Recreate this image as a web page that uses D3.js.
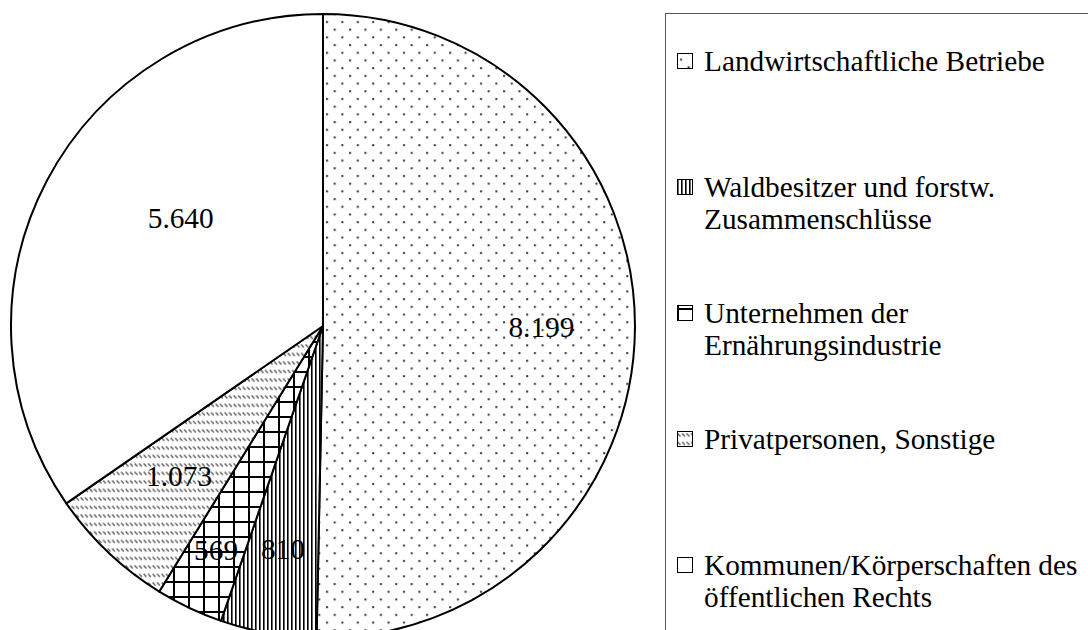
<!DOCTYPE html>
<html>
  <head>
    <meta charset="utf-8">
    <title>Pie chart</title>
    <script src="https://cdnjs.cloudflare.com/ajax/libs/d3/7.8.5/d3.min.js" charset="utf-8"></script>
    <style>
      body { margin: 0; background: #fff; }
      text { font-family: "Liberation Serif", "Times New Roman", serif; }
    </style>
  </head>
  <body>
    <div id="chart"></div>
    <script>

// data
var categories = ["Landwirtschaftliche Betriebe",
                  "Waldbesitzer und forstw. Zusammenschlüsse",
                  "Unternehmen der Ernährungsindustrie",
                  "Privatpersonen, Sonstige",
                  "Kommunen/Körperschaften des öffentlichen Rechts"];
var values = [8199, 810, 569, 1073, 5640];
var valueLabels = ["8.199", "810", "569", "1.073", "5.640"];
var legendLines = [["Landwirtschaftliche Betriebe"],
                   ["Waldbesitzer und forstw.", "Zusammenschlüsse"],
                   ["Unternehmen der", "Ernährungsindustrie"],
                   ["Privatpersonen, Sonstige"],
                   ["Kommunen/Körperschaften des", "öffentlichen Rechts"]];

var W = 1088, H = 630;
var cx = 323, cy = 326, R = 312;
var fontSize = 29.3;
// label placement: fraction of radius, and small angle nudge (radians)
var labelFrac = [0.70, 0.73, 0.80, 0.67, 0.57];
var labelNudge = [0, 0, 0, 0, 0.16];

var svg = d3.select("#chart").append("svg")
    .attr("width", W).attr("height", H);

var defs = svg.append("defs");

// dots
var p0 = defs.append("pattern").attr("id", "pat0")
    .attr("patternUnits", "userSpaceOnUse").attr("width", 15.4).attr("height", 15.4);
p0.append("rect").attr("width", 15.4).attr("height", 15.4).attr("fill", "#fff");
p0.append("rect").attr("x", 3).attr("y", 3).attr("width", 2).attr("height", 2).attr("fill", "#333");
p0.append("rect").attr("x", 10.7).attr("y", 10.7).attr("width", 2).attr("height", 2).attr("fill", "#333");

// vertical stripes
var p1 = defs.append("pattern").attr("id", "pat1")
    .attr("patternUnits", "userSpaceOnUse").attr("width", 4).attr("height", 4);
p1.append("rect").attr("width", 4).attr("height", 4).attr("fill", "#fff");
p1.append("rect").attr("x", 0).attr("width", 1.6).attr("height", 4).attr("fill", "#000");

// grid
var p2 = defs.append("pattern").attr("id", "pat2")
    .attr("patternUnits", "userSpaceOnUse").attr("width", 15).attr("height", 15);
p2.append("rect").attr("width", 15).attr("height", 15).attr("fill", "#fff");
p2.append("rect").attr("x", 0).attr("width", 2).attr("height", 15).attr("fill", "#000");
p2.append("rect").attr("y", 0).attr("width", 15).attr("height", 2).attr("fill", "#000");

// short diagonal dashes
var p3 = defs.append("pattern").attr("id", "pat3")
    .attr("patternUnits", "userSpaceOnUse").attr("width", 4.5).attr("height", 8.5);
p3.append("rect").attr("width", 4.5).attr("height", 8.5).attr("fill", "#fff");
p3.append("line").attr("x1", 0.6).attr("y1", 1.5).attr("x2", 3.4).attr("y2", 4.5)
    .attr("stroke", "#555").attr("stroke-width", 1.3);

var fills = ["url(#pat0)", "url(#pat1)", "url(#pat2)", "url(#pat3)", "#fff"];

var pie = d3.pie().sort(null).value(function(d) { return d; });
var arcs = pie(values);
var arc = d3.arc().innerRadius(0).outerRadius(R);

var g = svg.append("g").attr("transform", "translate(" + cx + "," + cy + ")");

g.selectAll("path.slice")
    .data(arcs)
  .enter().append("path")
    .attr("class", "slice")
    .attr("d", arc)
    .attr("fill", function(d, i) { return fills[i]; })
    .attr("stroke", "#000")
    .attr("stroke-width", 2)
    .attr("stroke-linejoin", "round");

g.selectAll("text.val")
    .data(arcs)
  .enter().append("text")
    .attr("class", "val")
    .attr("transform", function(d, i) {
        var a = (d.startAngle + d.endAngle) / 2 + labelNudge[i];
        var r = R * labelFrac[i];
        return "translate(" + (Math.sin(a) * r) + "," + (-Math.cos(a) * r) + ")";
    })
    .attr("text-anchor", "middle")
    .attr("dy", "0.3em")
    .style("font-size", fontSize + "px")
    .text(function(d, i) { return valueLabels[i]; });

// legend
svg.append("rect")
    .attr("x", 665.5).attr("y", 13.5)
    .attr("width", 500).attr("height", 700)
    .attr("fill", "none")
    .attr("stroke", "#555")
    .attr("stroke-width", 1);

var legendY = d3.scalePoint().domain(d3.range(categories.length)).range([71, 575]);
var lineH = 32;

var items = svg.selectAll("g.leg")
    .data(categories)
  .enter().append("g")
    .attr("class", "leg")
    .attr("transform", function(d, i) { return "translate(677," + legendY(i) + ")"; });

items.append("rect")
    .attr("x", 0.5).attr("y", -17.5)
    .attr("width", 15).attr("height", 15)
    .attr("fill", function(d, i) { return fills[i]; })
    .attr("stroke", "#000")
    .attr("stroke-width", 1);

items.each(function(d, i) {
    var t = d3.select(this).append("text")
        .attr("x", 27)
        .style("font-size", fontSize + "px");
    legendLines[i].forEach(function(line, k) {
        t.append("tspan").attr("x", 27).attr("y", k * lineH).text(line);
    });
});

    </script>
  </body>
</html>
